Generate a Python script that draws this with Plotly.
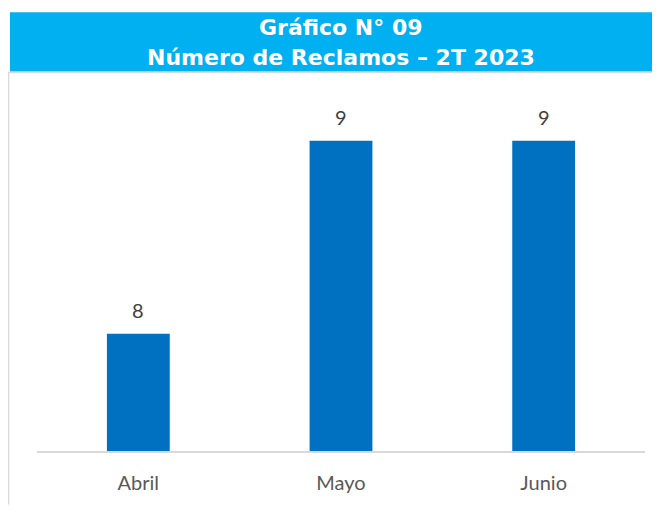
import plotly.graph_objects as go

categories = ["Abril", "Mayo", "Junio"]
values = [8, 9, 9]
title_line1 = "Gráfico N° 09"
title_line2 = "Número de Reclamos – 2T 2023"

# page is offset by the 8px body margin; figure sized to fill the rest of the window
OFF = 8
W, H = 652, 498
L, R, T, B = 29, 15, 64, 53
pw, ph = W - L - R, H - T - B

def xp(page_px):
    return (page_px - OFF - L) / pw

def yp(page_py):
    return 1 - (page_py - OFF - T) / ph

fig = go.Figure()
fig.add_trace(go.Bar(
    x=categories, y=values, width=0.31,
    marker=dict(color="#0070C0", line=dict(width=0)),
    hoverinfo="skip",
))

for c, v in zip(categories, values):
    fig.add_annotation(x=c, y=v, xref="x", yref="y", text=str(v), showarrow=False,
                       yshift=24, font=dict(family="Lato, Open Sans, sans-serif", size=20, color="#404040"))

# title box
fig.add_shape(type="rect", xref="paper", yref="paper", x0=xp(10), x1=xp(661), y0=yp(71.5), y1=yp(12),
              fillcolor="#00B0F0", line=dict(width=0), layer="below")
# chart border (left & top)
fig.add_shape(type="line", xref="paper", yref="paper", x0=xp(8.5), x1=xp(8.5), y0=yp(72), y1=yp(507),
              line=dict(color="#D9D9D9", width=1.5))
fig.add_shape(type="line", xref="paper", yref="paper", x0=xp(8), x1=xp(661), y0=yp(72.5), y1=yp(72.5),
              line=dict(color="#D9D9D9", width=1.5))

for txt, cy in [(title_line1, 27.5), (title_line2, 57.5)]:
    fig.add_annotation(x=xp(341), y=yp(cy), xref="paper", yref="paper", text="<b>" + txt + "</b>",
                       showarrow=False, xanchor="center", yanchor="middle",
                       font=dict(family="DejaVu Sans, sans-serif", size=22, color="white"))

fig.update_layout(
    width=W, height=H,
    margin=dict(l=L, r=R, t=T, b=B, pad=0),
    paper_bgcolor="white", plot_bgcolor="white",
    showlegend=False,
    xaxis=dict(showgrid=False, showline=True, linecolor="#D9D9D9", linewidth=2,
               ticks="outside", ticklen=13, tickcolor="rgba(0,0,0,0)",
               tickfont=dict(family="Lato, Open Sans, sans-serif", size=20, color="#595959"),
               fixedrange=True),
    yaxis=dict(range=[7.392, 9.3557], visible=False, showgrid=False, fixedrange=True),
)

fig.write_html("out.html")
